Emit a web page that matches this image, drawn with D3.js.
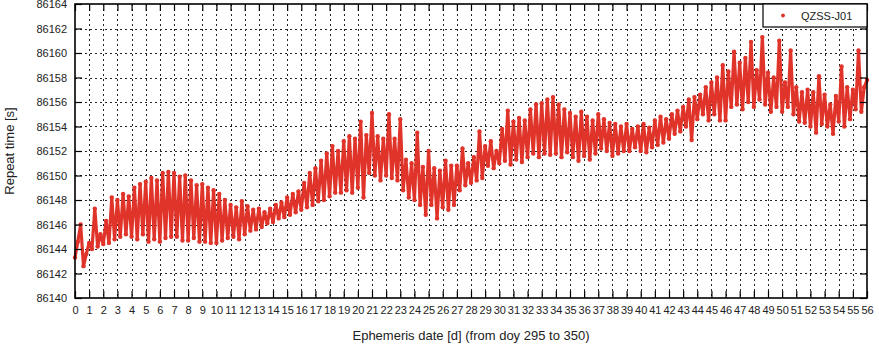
<!DOCTYPE html>
<html>
<head>
<meta charset="utf-8">
<script src="https://cdn.jsdelivr.net/npm/d3@7"></script>
<style>
  html, body { margin: 0; padding: 0; background: #fff; }
  svg { display: block; font-family: "Liberation Sans", Arial, sans-serif; }
  .tick text { fill: #222; font-size: 11px; }
</style>
</head>
<body>
<svg id="chart" width="879" height="349"></svg>
<script>
// Repeat time of QZSS-J01 ephemerides, sampled every 0.2 d (one row per day)
const sampleStep = 0.2;
const repeatTime = [
  86143.3, 86144.6, 86146.0, 86142.6, 86143.6,
  86144.5, 86144.0, 86147.3, 86144.2, 86145.2,
  86144.4, 86146.3, 86144.5, 86148.2, 86144.8,
  86148.0, 86145.0, 86148.5, 86145.2, 86148.3,
  86145.0, 86149.0, 86144.8, 86149.3, 86145.2,
  86149.5, 86144.6, 86149.8, 86144.8, 86149.6,
  86144.6, 86150.2, 86144.9, 86150.3, 86145.0,
  86150.2, 86145.0, 86149.9, 86144.7, 86150.0,
  86144.7, 86149.6, 86144.9, 86149.2, 86144.6,
  86149.3, 86144.6, 86149.0, 86144.5, 86148.8,
  86144.5, 86148.5, 86144.7, 86148.0, 86144.9,
  86147.6, 86145.0, 86147.4, 86144.8, 86147.9,
  86145.2, 86147.5, 86145.5, 86147.2, 86145.6,
  86147.3, 86145.8, 86147.0, 86146.1, 86147.3,
  86146.2, 86147.6, 86146.5, 86147.8, 86146.6,
  86148.2, 86146.8, 86148.5, 86147.0, 86148.7,
  86147.2, 86149.4, 86147.4, 86150.2, 86147.6,
  86150.6, 86147.9, 86151.2, 86148.0, 86151.8,
  86148.3, 86152.4, 86148.6, 86152.0, 86148.6,
  86152.8, 86148.8, 86153.2, 86148.6, 86153.0,
  86149.0, 86154.4, 86148.2, 86153.3, 86150.2,
  86155.1, 86150.0, 86153.2, 86149.6, 86153.0,
  86150.0, 86155.0, 86149.8, 86153.0, 86149.6,
  86154.6, 86148.8, 86151.3, 86148.2, 86151.0,
  86148.0, 86153.5, 86147.6, 86150.7, 86146.8,
  86152.0, 86147.6, 86150.6, 86146.5, 86150.4,
  86147.4, 86151.2, 86147.2, 86150.8, 86147.6,
  86150.8, 86148.8, 86152.2, 86149.2, 86151.0,
  86149.4, 86151.5, 86149.6, 86153.6, 86149.8,
  86152.4, 86150.8, 86152.8, 86150.6, 86152.0,
  86151.0, 86153.8, 86151.2, 86155.3, 86150.9,
  86154.4, 86151.3, 86154.7, 86151.1, 86154.5,
  86151.5, 86155.4, 86151.8, 86155.8, 86151.5,
  86155.9, 86151.8, 86156.2, 86151.7, 86156.4,
  86151.8, 86155.8, 86151.5, 86155.4, 86151.9,
  86155.1, 86151.5, 86154.8, 86151.2, 86155.2,
  86151.6, 86154.8, 86151.3, 86154.5, 86151.8,
  86155.0, 86152.2, 86154.6, 86152.0, 86154.3,
  86151.6, 86154.2, 86151.8, 86154.0, 86152.0,
  86154.2, 86152.0, 86153.8, 86152.3, 86154.0,
  86152.0, 86154.2, 86151.9, 86153.9, 86152.3,
  86154.5, 86152.5, 86154.8, 86152.7, 86154.6,
  86153.0, 86155.0, 86153.4, 86155.3, 86153.6,
  86155.6, 86154.0, 86156.2, 86152.9, 86156.4,
  86154.6, 86156.6, 86155.0, 86157.2, 86154.5,
  86157.6, 86155.0, 86158.0, 86154.5, 86159.0,
  86154.5, 86158.5, 86155.6, 86160.1, 86155.8,
  86159.2, 86155.4, 86159.6, 86156.0, 86160.9,
  86155.6, 86158.6, 86156.2, 86161.3, 86155.8,
  86158.4, 86155.2, 86158.0, 86155.6, 86161.0,
  86155.2, 86157.6, 86155.6, 86160.2, 86155.0,
  86157.2, 86154.4, 86156.8, 86154.3, 86157.0,
  86154.0, 86156.8, 86153.5, 86158.1, 86154.2,
  86156.6, 86154.0, 86155.8, 86153.4, 86156.5,
  86154.4, 86158.9, 86154.0, 86157.2, 86154.6,
  86157.0, 86155.4, 86160.2, 86155.2, 86157.2,
  86157.8
];

const xTicks = d3.range(0, 57, 1);
const yTicks = d3.range(86140, 86165, 2);
const seriesName = "QZSS-J01";
const xTitle = "Ephemeris date [d] (from doy 295 to 350)";
const yTitle = "Repeat time [s]";

const plot = { left: 75, right: 867, top: 4, bottom: 298 };
const red = "#e0342a";

const svg = d3.select("#chart");
const x = d3.scaleLinear().domain([0, 56]).range([plot.left, plot.right]);
const y = d3.scaleLinear().domain([86140, 86164]).range([plot.bottom, plot.top]);

// dashed grid
const grid = svg.append("g").attr("stroke", "#000").attr("stroke-width", 1)
  .attr("stroke-dasharray", "2,3").attr("opacity", 0.85);
grid.selectAll("line.v").data(xTicks.slice(1, -1)).join("line")
  .attr("x1", d => Math.round(x(d)) + 0.5).attr("x2", d => Math.round(x(d)) + 0.5)
  .attr("y1", plot.top).attr("y2", plot.bottom);
grid.selectAll("line.h").data(yTicks.slice(1, -1)).join("line")
  .attr("y1", d => Math.round(y(d)) + 0.5).attr("y2", d => Math.round(y(d)) + 0.5)
  .attr("x1", plot.left).attr("x2", plot.right);

// data series: dense markers joined into streaks
const pts = repeatTime.map((v, i) => [i * sampleStep, v]);
svg.append("path").datum(pts)
  .attr("fill", "none").attr("stroke", red).attr("stroke-width", 3.2)
  .attr("stroke-linejoin", "round").attr("stroke-linecap", "round")
  .attr("d", d3.line().x(d => x(d[0])).y(d => y(d[1])));
svg.append("g").attr("fill", red).selectAll("circle").data(pts).join("circle")
  .attr("cx", d => x(d[0])).attr("cy", d => y(d[1])).attr("r", 2.2);

// axes with inward ticks on all four sides
const tickLen = 7;
const gx = svg.append("g").attr("transform", `translate(0,${plot.bottom})`)
  .call(d3.axisBottom(x).tickValues(xTicks).tickFormat(d3.format("d"))
    .tickSizeInner(-tickLen).tickSizeOuter(0).tickPadding(8));
const gy = svg.append("g").attr("transform", `translate(${plot.left},0)`)
  .call(d3.axisLeft(y).tickValues(yTicks).tickFormat(d3.format("d"))
    .tickSizeInner(-tickLen).tickSizeOuter(0).tickPadding(8));
const gt = svg.append("g").attr("transform", `translate(0,${plot.top})`)
  .call(d3.axisTop(x).tickValues(xTicks).tickFormat("")
    .tickSizeInner(-tickLen).tickSizeOuter(0));
const gr = svg.append("g").attr("transform", `translate(${plot.right},0)`)
  .call(d3.axisRight(y).tickValues(yTicks).tickFormat("")
    .tickSizeInner(-tickLen).tickSizeOuter(0));
[gx, gy, gt, gr].forEach(g => {
  g.select(".domain").remove();
  g.selectAll(".tick line").attr("stroke", "#000").attr("stroke-width", 1.2);
  g.selectAll(".tick text").attr("font-family", "Liberation Sans, Arial, sans-serif");
});

// frame
svg.append("rect")
  .attr("x", plot.left).attr("y", plot.top)
  .attr("width", plot.right - plot.left).attr("height", plot.bottom - plot.top)
  .attr("fill", "none").attr("stroke", "#000").attr("stroke-width", 1.6);

// legend
const lg = svg.append("g");
lg.append("rect").attr("x", 763).attr("y", plot.top).attr("width", plot.right - 763).attr("height", 23)
  .attr("fill", "#fff").attr("stroke", "#000").attr("stroke-width", 1.2);
lg.append("circle").attr("cx", 783).attr("cy", 15.5).attr("r", 1.9).attr("fill", red);
lg.append("text").attr("x", 801).attr("y", 19.5).attr("font-size", 11).attr("fill", "#222")
  .text(seriesName);

// axis titles
svg.append("text").attr("x", (plot.left + plot.right) / 2).attr("y", 340)
  .attr("text-anchor", "middle").attr("font-size", 13).attr("fill", "#222").text(xTitle);
svg.append("text").attr("transform", `translate(14,${(plot.top + plot.bottom) / 2}) rotate(-90)`)
  .attr("text-anchor", "middle").attr("font-size", 13).attr("fill", "#222").text(yTitle);
</script>
</body>
</html>
